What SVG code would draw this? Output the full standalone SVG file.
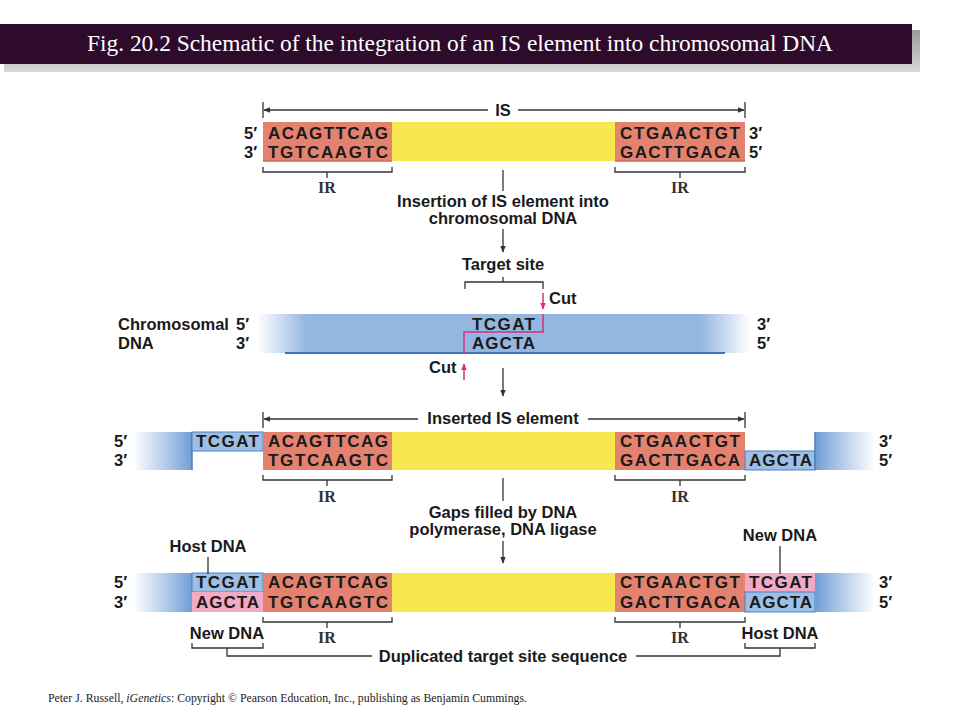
<svg xmlns="http://www.w3.org/2000/svg" width="960" height="720" viewBox="0 0 960 720">
<style>
.lbl{font-family:"Liberation Sans",Arial,sans-serif;font-weight:bold;font-size:16.5px;fill:#1a1a1a}
.seq{font-family:"Liberation Sans",Arial,sans-serif;font-weight:bold;font-size:17px;fill:#1a1a1a}
.ir{font-family:"Liberation Serif","Times New Roman",serif;font-weight:bold;font-size:16px;fill:#333}
.ln{stroke:#333;stroke-width:1.3;fill:none}
.cut{stroke:#d4307f;stroke-width:1.5;fill:none}
.red{fill:#e4826f}
.yel{fill:#f8e850}
.blu{fill:#9dbfe6}
.pnk{fill:#f2a9c6}
</style>
<defs>
<marker id="ah" viewBox="0 0 10 10" refX="9" refY="5" markerWidth="7" markerHeight="7" orient="auto-start-reverse" markerUnits="userSpaceOnUse"><path d="M0,1 L10,5 L0,9 z" fill="#333"/></marker>
<marker id="ahm" viewBox="0 0 10 10" refX="9" refY="5" markerWidth="7" markerHeight="7" orient="auto-start-reverse" markerUnits="userSpaceOnUse"><path d="M0,1 L10,5 L0,9 z" fill="#d4307f"/></marker>
<linearGradient id="chrom" gradientUnits="userSpaceOnUse" x1="257" y1="0" x2="750" y2="0">
<stop offset="0" stop-color="#93b7e0" stop-opacity="0"/>
<stop offset="0.1" stop-color="#93b7e0" stop-opacity="1"/>
<stop offset="0.9" stop-color="#93b7e0" stop-opacity="1"/>
<stop offset="1" stop-color="#93b7e0" stop-opacity="0"/>
</linearGradient>
<linearGradient id="fadeL" x1="0" y1="0" x2="1" y2="0">
<stop offset="0" stop-color="#7aa6da" stop-opacity="0"/>
<stop offset="1" stop-color="#6f9dd6" stop-opacity="1"/>
</linearGradient>
<linearGradient id="fadeR" x1="0" y1="0" x2="1" y2="0">
<stop offset="0" stop-color="#6f9dd6" stop-opacity="1"/>
<stop offset="1" stop-color="#7aa6da" stop-opacity="0"/>
</linearGradient>
<linearGradient id="shadow" x1="0" y1="0" x2="0" y2="1">
<stop offset="0" stop-color="#9a9a9a"/>
<stop offset="1" stop-color="#d8d8d8"/>
</linearGradient>
</defs>
<rect width="960" height="720" fill="#fff"/>

<g id="title">
<rect x="4" y="30" width="916" height="42" fill="url(#shadow)"/>
<rect x="0" y="24" width="912" height="40" fill="#2e0a2b"/>
<text x="460" y="51" text-anchor="middle" font-family="'Liberation Serif','Times New Roman',serif" font-size="23" fill="#fff" textLength="746" lengthAdjust="spacingAndGlyphs">Fig. 20.2  Schematic of the integration of an IS element into chromosomal DNA</text>
</g>

<g id="is-element">
<line class="ln" x1="263" y1="102" x2="263" y2="118"/>
<line class="ln" x1="745" y1="102" x2="745" y2="118"/>
<line class="ln" x1="488" y1="110" x2="264" y2="110" marker-end="url(#ah)"/>
<line class="ln" x1="518" y1="110" x2="744" y2="110" marker-end="url(#ah)"/>
<text class="lbl" x="503" y="116" text-anchor="middle">IS</text>
<rect class="red" x="263" y="122" width="129" height="39"/>
<rect class="yel" x="392" y="122" width="223" height="39"/>
<rect class="red" x="615" y="122" width="130" height="39"/>
<line x1="263" y1="161" x2="392" y2="161" stroke="#c96a58" stroke-width="1.5"/>
<line x1="615" y1="161" x2="745" y2="161" stroke="#c96a58" stroke-width="1.5"/>
<text class="seq" x="268" y="139" textLength="120" lengthAdjust="spacing">ACAGTTCAG</text>
<text class="seq" x="268" y="158" textLength="120" lengthAdjust="spacing">TGTCAAGTC</text>
<text class="seq" x="620" y="139" textLength="120" lengthAdjust="spacing">CTGAACTGT</text>
<text class="seq" x="620" y="158" textLength="120" lengthAdjust="spacing">GACTTGACA</text>
<text class="lbl" x="244" y="139">5′</text>
<text class="lbl" x="244" y="158">3′</text>
<text class="lbl" x="749" y="139">3′</text>
<text class="lbl" x="749" y="158">5′</text>
<path class="ln" d="M263,167 V172 H392 V167 M327,172 V178"/>
<path class="ln" d="M615,167 V172 H745 V167 M680,172 V178"/>
<text class="ir" x="327" y="193" text-anchor="middle">IR</text>
<text class="ir" x="680" y="193" text-anchor="middle">IR</text>
</g>

<g id="step1">
<text class="lbl" x="503" y="207" text-anchor="middle">Insertion of IS element into</text>
<text class="lbl" x="503" y="224" text-anchor="middle">chromosomal DNA</text>
<text class="lbl" x="503" y="270" text-anchor="middle">Target site</text>
<path class="ln" d="M465,289 V282 H543 V289 M503,282 V277"/>
</g>

<g id="chromosomal-dna">
<rect x="257" y="314" width="493" height="39" fill="url(#chrom)"/>
<line x1="285" y1="353" x2="725" y2="353" stroke="#3f74b6" stroke-width="2"/>
<text class="lbl" x="118" y="330">Chromosomal</text>
<text class="lbl" x="118" y="349">DNA</text>
<text class="lbl" x="236" y="330">5′</text>
<text class="lbl" x="236" y="349">3′</text>
<text class="lbl" x="757" y="330">3′</text>
<text class="lbl" x="757" y="349">5′</text>
<text class="seq" x="472" y="330" textLength="63" lengthAdjust="spacing">TCGAT</text>
<text class="seq" x="472" y="349" textLength="63" lengthAdjust="spacing">AGCTA</text>
<path class="cut" d="M543,314 V332 H464 V354"/>
<line class="cut" x1="543" y1="293" x2="543" y2="309" marker-end="url(#ahm)"/>
<line class="cut" x1="464" y1="380" x2="464" y2="364" marker-end="url(#ahm)"/>
<text class="lbl" x="549" y="304">Cut</text>
<text class="lbl" x="429" y="373">Cut</text>
</g>

<g id="inserted">
<line class="ln" x1="263" y1="412" x2="263" y2="428"/>
<line class="ln" x1="745" y1="412" x2="745" y2="428"/>
<line class="ln" x1="418" y1="419" x2="264" y2="419" marker-end="url(#ah)"/>
<line class="ln" x1="588" y1="419" x2="744" y2="419" marker-end="url(#ah)"/>
<text class="lbl" x="503" y="424" text-anchor="middle">Inserted IS element</text>
<rect x="133" y="432" width="59" height="38" fill="url(#fadeL)"/>
<line x1="192" y1="432" x2="192" y2="470" stroke="#4a80c0" stroke-width="1.5"/>
<rect class="blu" x="192" y="432" width="71" height="19" stroke="#4a80c0" stroke-width="1"/>
<rect class="red" x="263" y="432" width="129" height="38"/>
<rect class="yel" x="392" y="432" width="223" height="38"/>
<rect class="red" x="615" y="432" width="130" height="38"/>
<rect class="blu" x="745" y="451" width="70" height="19" stroke="#4a80c0" stroke-width="1"/>
<rect x="815" y="432" width="60" height="38" fill="url(#fadeR)"/>
<line x1="815" y1="432" x2="815" y2="470" stroke="#4a80c0" stroke-width="1.5"/>
<text class="seq" x="196" y="447" textLength="63" lengthAdjust="spacing">TCGAT</text>
<text class="seq" x="268" y="447" textLength="120" lengthAdjust="spacing">ACAGTTCAG</text>
<text class="seq" x="268" y="466" textLength="120" lengthAdjust="spacing">TGTCAAGTC</text>
<text class="seq" x="620" y="447" textLength="120" lengthAdjust="spacing">CTGAACTGT</text>
<text class="seq" x="620" y="466" textLength="120" lengthAdjust="spacing">GACTTGACA</text>
<text class="seq" x="749" y="466" textLength="63" lengthAdjust="spacing">AGCTA</text>
<text class="lbl" x="114" y="447">5′</text>
<text class="lbl" x="114" y="466">3′</text>
<text class="lbl" x="879" y="447">3′</text>
<text class="lbl" x="879" y="466">5′</text>
<path class="ln" d="M263,475 V480 H392 V475 M327,480 V486"/>
<path class="ln" d="M615,475 V480 H745 V475 M680,480 V486"/>
<text class="ir" x="327" y="502" text-anchor="middle">IR</text>
<text class="ir" x="680" y="502" text-anchor="middle">IR</text>
</g>

<g id="step3">
<text class="lbl" x="503" y="518" text-anchor="middle">Gaps filled by DNA</text>
<text class="lbl" x="503" y="535" text-anchor="middle">polymerase, DNA ligase</text>
</g>

<g id="final">
<rect x="133" y="573" width="59" height="39" fill="url(#fadeL)"/>
<rect class="blu" x="192" y="573" width="71" height="19" stroke="#4a80c0" stroke-width="1"/>
<rect class="pnk" x="192" y="592" width="71" height="20"/>
<rect class="red" x="263" y="573" width="129" height="39"/>
<rect class="yel" x="392" y="573" width="223" height="39"/>
<rect class="red" x="615" y="573" width="130" height="39"/>
<rect class="pnk" x="745" y="573" width="70" height="19"/>
<rect class="blu" x="745" y="592" width="70" height="20" stroke="#4a80c0" stroke-width="1"/>
<rect x="815" y="573" width="60" height="39" fill="url(#fadeR)"/>
<text class="seq" x="196" y="588" textLength="63" lengthAdjust="spacing">TCGAT</text>
<text class="seq" x="196" y="608" textLength="63" lengthAdjust="spacing">AGCTA</text>
<text class="seq" x="268" y="588" textLength="120" lengthAdjust="spacing">ACAGTTCAG</text>
<text class="seq" x="268" y="608" textLength="120" lengthAdjust="spacing">TGTCAAGTC</text>
<text class="seq" x="620" y="588" textLength="120" lengthAdjust="spacing">CTGAACTGT</text>
<text class="seq" x="620" y="608" textLength="120" lengthAdjust="spacing">GACTTGACA</text>
<text class="seq" x="749" y="588" textLength="63" lengthAdjust="spacing">TCGAT</text>
<text class="seq" x="749" y="608" textLength="63" lengthAdjust="spacing">AGCTA</text>
<text class="lbl" x="114" y="588">5′</text>
<text class="lbl" x="114" y="608">3′</text>
<text class="lbl" x="879" y="588">3′</text>
<text class="lbl" x="879" y="608">5′</text>
<text class="lbl" x="208" y="552" text-anchor="middle">Host DNA</text>
<line class="ln" x1="208" y1="557" x2="208" y2="574"/>
<text class="lbl" x="780" y="541" text-anchor="middle">New DNA</text>
<line class="ln" x1="780" y1="546" x2="780" y2="574"/>
<path class="ln" d="M263,617 V622 H392 V617 M327,622 V628"/>
<path class="ln" d="M615,617 V622 H745 V617 M680,622 V628"/>
<text class="ir" x="327" y="643" text-anchor="middle">IR</text>
<text class="ir" x="680" y="643" text-anchor="middle">IR</text>
<text class="lbl" x="227" y="639" text-anchor="middle">New DNA</text>
<text class="lbl" x="780" y="639" text-anchor="middle">Host DNA</text>
<path class="ln" d="M192,643 V648 H263 V643"/>
<path class="ln" d="M745,643 V648 H815 V643"/>
<text class="lbl" x="503" y="662" text-anchor="middle">Duplicated target site sequence</text>
</g>

<g id="connectors">
<line class="ln" x1="503" y1="170" x2="503" y2="191"/>
<line class="ln" x1="503" y1="229" x2="503" y2="252" marker-end="url(#ah)"/>
<line class="ln" x1="503" y1="368" x2="503" y2="396" marker-end="url(#ah)"/>
<line class="ln" x1="503" y1="478" x2="503" y2="501"/>
<line class="ln" x1="503" y1="541" x2="503" y2="563" marker-end="url(#ah)"/>
<path class="ln" d="M227,648 V656 H372"/>
<path class="ln" d="M780,648 V656 H636"/>
</g>

<text x="48" y="702" font-family="'Liberation Serif','Times New Roman',serif" font-size="11.5" fill="#222" textLength="479" lengthAdjust="spacingAndGlyphs">Peter J. Russell, <tspan font-style="italic">iGenetics</tspan>: Copyright © Pearson Education, Inc., publishing as Benjamin Cummings.</text>
</svg>
